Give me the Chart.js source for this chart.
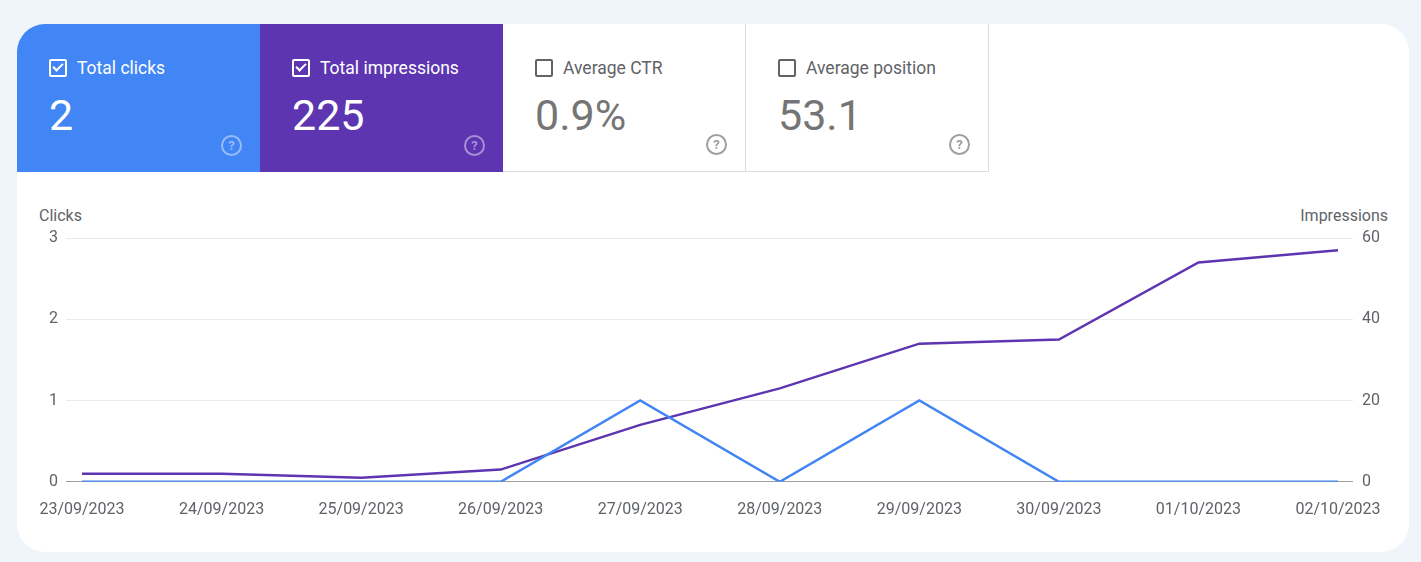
<!DOCTYPE html>
<html>
<head>
<meta charset="utf-8">
<script src="https://cdn.jsdelivr.net/npm/chart.js@4"></script>
<style>
  body { margin: 0; background: #f0f4fb; font-family: Roboto, "Noto Sans", sans-serif; }
  #card { position: absolute; left: 17px; top: 24px; width: 1392px; height: 528px; background: #fff; border-radius: 28px; overflow: hidden; }
  .tile { position: absolute; top: 0; width: 243px; height: 148px; box-sizing: border-box; }
  .tile .head { position: absolute; left: 32px; top: 34px; display: flex; align-items: center; font-size: 17.5px; }
  .box { width: 14px; height: 14px; border: 2px solid currentColor; border-radius: 2px; margin-right: 10px; position: relative; }
  .box.on::after { content: ""; position: absolute; left: 4px; top: 0px; width: 4px; height: 8px; border: solid currentColor; border-width: 0 2px 2px 0; transform: rotate(45deg); }
  .tile .val { position: absolute; left: 32px; top: 66px; font-size: 43px; line-height: 50px; }
  .help { position: absolute; right: 18px; bottom: 16px; width: 17px; height: 17px; border: 2px solid; border-radius: 50%; font-size: 13px; font-weight: bold; line-height: 17px; text-align: center; }
  .colored { color: #fff; }
  .colored .help { color: rgba(255,255,255,0.45); }
  .plain { color: #616161; border-right: 1px solid #dadce0; border-bottom: 1px solid #dadce0; }
  .plain .head { color: #5f6368; }
  .plain .val { color: #757575; }
  .plain .help { color: #9e9e9e; }
  .axt { position: absolute; top: 182px; font-size: 16px; color: #5f6368; }
  #wrap { position: absolute; left: 0; top: 194px; width: 1392px; height: 313px; }
</style>
</head>
<body>
<div id="card">
  <div id="tiles"></div>
  <div class="axt" style="left:22px">Clicks</div>
  <div class="axt" style="right:21px">Impressions</div>
  <div id="wrap"><canvas id="chart"></canvas></div>
</div>
<script>
const dates = ['23/09/2023', '24/09/2023', '25/09/2023', '26/09/2023', '27/09/2023',
               '28/09/2023', '29/09/2023', '30/09/2023', '01/10/2023', '02/10/2023'];
const clicks = [0, 0, 0, 0, 1, 0, 1, 0, 0, 0];
const impressions = [2, 2, 1, 3, 14, 23, 34, 35, 54, 57];
const clickTicks = [0, 1, 2, 3];
const impressionTicks = [0, 20, 40, 60];

const metricNames = ['Total clicks', 'Total impressions', 'Average CTR', 'Average position'];
const metricValues = ['2', '225', '0.9%', '53.1'];
const metricOn = [true, true, false, false];
const metricColors = ['#4285f4', '#5e35b1', null, null];

// metric tiles along the top
const tiles = document.getElementById('tiles');
metricNames.forEach((name, i) => {
    const t = document.createElement('div');
    t.className = 'tile ' + (metricOn[i] ? 'colored' : 'plain');
    t.style.left = (i * 243) + 'px';
    if (metricColors[i]) t.style.background = metricColors[i];
    t.innerHTML = `<div class="head"><span class="box${metricOn[i] ? ' on' : ''}"></span>${name}</div>
                   <div class="val">${metricValues[i]}</div><div class="help">?</div>`;
    tiles.appendChild(t);
});

const gridColor = '#ebebeb';
const tickFont = { family: 'Roboto', size: 16 };

new Chart(document.getElementById('chart'), {
    type: 'line',
    data: {
        labels: dates,
        datasets: [
            { label: 'Clicks', data: clicks, yAxisID: 'y', borderColor: '#4285f4', borderWidth: 2.5, pointRadius: 0, tension: 0 },
            { label: 'Impressions', data: impressions, yAxisID: 'y1', borderColor: '#5e35b1', borderWidth: 2.5, pointRadius: 0, tension: 0 }
        ]
    },
    options: {
        responsive: true,
        maintainAspectRatio: false,
        animation: false,
        layout: { padding: { top: 20, left: 0, right: 0, bottom: 0 } },
        plugins: { legend: { display: false }, tooltip: { enabled: false } },
        scales: {
            x: {
                grid: { display: false },
                border: { display: false },
                ticks: { color: '#5f6368', font: tickFont, padding: 11, maxRotation: 0, autoSkip: false }
            },
            y: {
                position: 'left',
                min: 0, max: 3,
                afterBuildTicks: s => { s.ticks = clickTicks.map(v => ({ value: v })); },
                afterFit: s => { s.width = 65; },
                border: { display: false },
                grid: {
                    color: c => c.tick && c.tick.value === 0 ? '#9e9e9e' : gridColor,
                    tickLength: 16
                },
                ticks: { color: '#5f6368', font: tickFont, padding: 8 }
            },
            y1: {
                position: 'right',
                min: 0, max: 60,
                afterBuildTicks: s => { s.ticks = impressionTicks.map(v => ({ value: v })); },
                afterFit: s => { s.width = 71; },
                border: { display: false },
                grid: {
                    drawOnChartArea: false,
                    color: c => c.tick && c.tick.value === 0 ? '#9e9e9e' : gridColor,
                    tickLength: 15
                },
                ticks: { color: '#5f6368', font: tickFont, padding: 9 }
            }
        }
    }
});
</script>
</body>
</html>
